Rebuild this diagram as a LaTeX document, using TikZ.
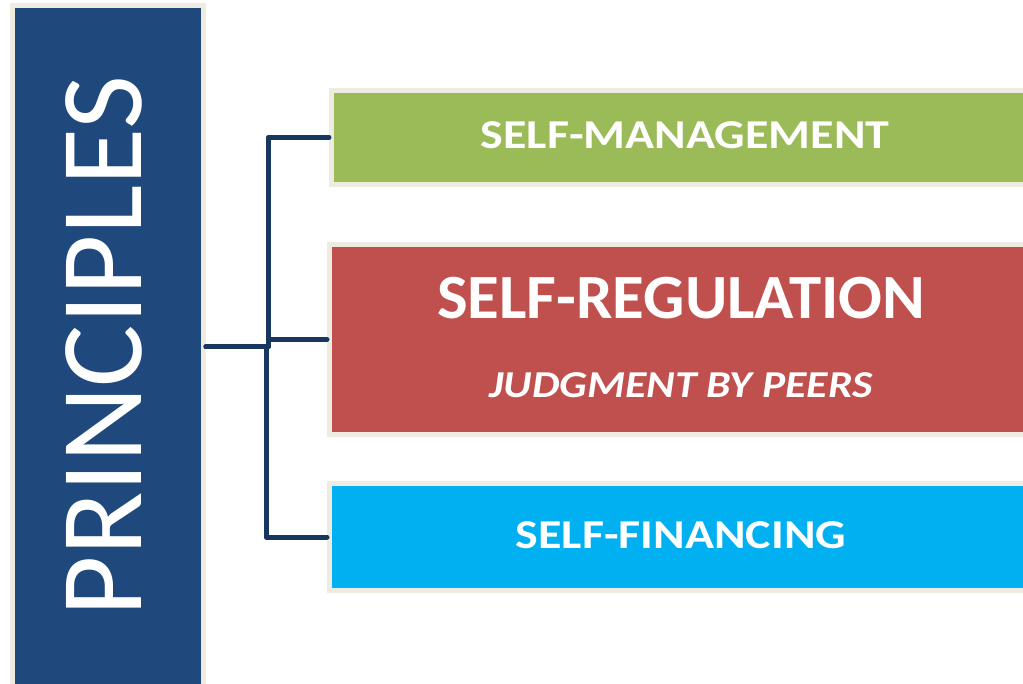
\documentclass[tikz,border=0pt]{standalone}
\usepackage{fontspec}
\setmainfont{Carlito}
\definecolor{darkblue}{HTML}{1F497D}
\definecolor{paleframe}{HTML}{EEECE1}
\definecolor{olivegreen}{HTML}{9BBB59}
\definecolor{brickred}{HTML}{C0504D}
\definecolor{skyblue}{HTML}{00B0F0}
\definecolor{linkblue}{HTML}{17375E}
\tikzset{
  panel/.style = {draw=paleframe, line width=5pt, inner sep=0pt},
  conn/.style = {draw=linkblue, line width=5pt, line join=round, line cap=round},
  heading/.style = {text=white, font=\bfseries\fontsize{41}{48}\selectfont, inner sep=0pt, xscale=1.17}
}
\begin{document}
\begin{tikzpicture}[x=1pt, y=-1pt]
\useasboundingbox (0,0) rectangle (1023,684);
\clip (0,0) rectangle (1023,684);

%left column
\node[panel, fill=darkblue, minimum width=191pt, minimum height=694pt] (pr) at (108,353) {};
\node[rotate=90, text=white, font=\fontsize{117}{128}\selectfont, inner sep=0pt] (prtext) at (103.5,346) {PRINCIPLES};

%boxes
\node[panel, fill=olivegreen, minimum width=707pt, minimum height=94pt] (sm) at (685,137.5) {};
\node[panel, fill=brickred, minimum width=703pt, minimum height=190pt] (sr) at (681,339.5) {};
\node[panel, fill=skyblue, minimum width=703pt, minimum height=107pt] (sf) at (681,537) {};

%texts
\node[heading] (smtext) at (685,135) {SELF-MANAGEMENT};
\node[heading, xscale=0.88, font=\bfseries\fontsize{63}{70}\selectfont] (srtext) at (681,298) {SELF-REGULATION};
\node[heading, xscale=0.98, font=\bfseries\itshape\fontsize{38}{44}\selectfont] (peers) at (681,385) {JUDGMENT BY PEERS};
\node[heading] (sftext) at (681,535) {SELF-FINANCING};

%connectors
\coordinate (root) at (206,347);
\draw[conn] (root) -- ++(62,0) |- (sm.west);
\draw[conn] (root) -- ++(62,0) |- (sr.west);
\draw[conn] (root) -- ++(60,0) |- (sf.west);
\end{tikzpicture}
\end{document}
